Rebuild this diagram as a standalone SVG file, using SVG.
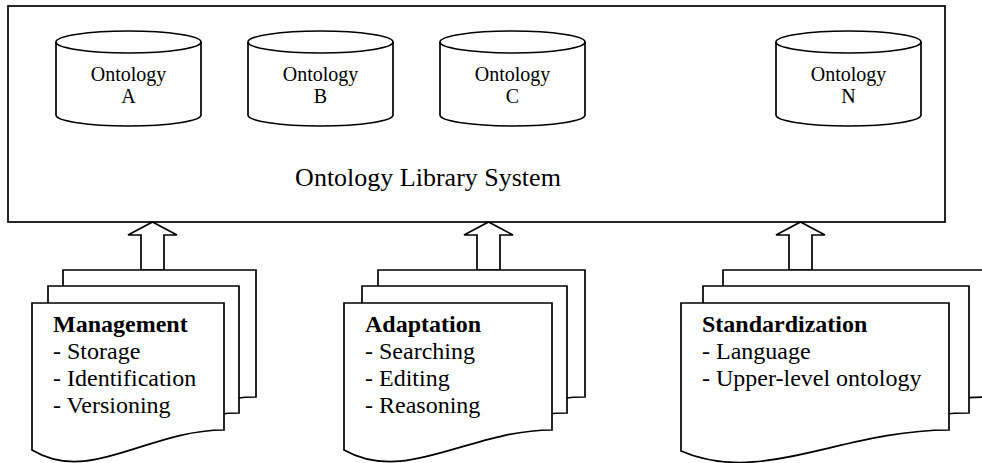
<svg xmlns="http://www.w3.org/2000/svg" width="982" height="463" viewBox="0 0 982 463">
<style>
.ln{fill:#fff;stroke:#000;stroke-width:1.7;stroke-linejoin:miter}
.nf{fill:none;stroke:#000;stroke-width:1.7}
.cy{font-family:"Liberation Serif","Times New Roman",serif;font-size:20px;fill:#000;text-anchor:middle}
.big{font-family:"Liberation Serif","Times New Roman",serif;font-size:26px;fill:#000;text-anchor:middle}
.tx{font-family:"Liberation Serif","Times New Roman",serif;font-size:24px;fill:#000}
.b{font-weight:bold}
</style>
<rect fill="#fff" x="0" y="0" width="982" height="463"/>
<g id="library">
<rect class="ln" x="8" y="6" width="937" height="216"/>
<text class="big" x="428" y="186">Ontology Library System</text>
</g>
<g id="ontologyA">
<path class="ln" d="M56,42 A72.5,11 0 0 1 201,42 V115 A72.5,11 0 0 1 56,115 Z"/>
<path class="nf" d="M56,42 A72.5,11 0 0 0 201,42"/>
<text class="cy" x="128.5" y="81">Ontology</text><text class="cy" x="128.5" y="103">A</text>
</g>
<g id="ontologyB">
<path class="ln" d="M248,42 A72.5,11 0 0 1 393,42 V115 A72.5,11 0 0 1 248,115 Z"/>
<path class="nf" d="M248,42 A72.5,11 0 0 0 393,42"/>
<text class="cy" x="320.5" y="81">Ontology</text><text class="cy" x="320.5" y="103">B</text>
</g>
<g id="ontologyC">
<path class="ln" d="M440,42 A72.5,11 0 0 1 585,42 V115 A72.5,11 0 0 1 440,115 Z"/>
<path class="nf" d="M440,42 A72.5,11 0 0 0 585,42"/>
<text class="cy" x="512.5" y="81">Ontology</text><text class="cy" x="512.5" y="103">C</text>
</g>
<g id="ontologyN">
<path class="ln" d="M776,42 A72.5,11 0 0 1 921,42 V115 A72.5,11 0 0 1 776,115 Z"/>
<path class="nf" d="M776,42 A72.5,11 0 0 0 921,42"/>
<text class="cy" x="848.5" y="81">Ontology</text><text class="cy" x="848.5" y="103">N</text>
</g>
<g id="connectors">
<polygon class="ln" points="141,270 141,235 128,235 152.5,222 177,235 164,235 164,270"/>
<polygon class="ln" points="477,270 477,235 464,235 488.5,222 513,235 500,235 500,270"/>
<polygon class="ln" points="789,270 789,235 776,235 800.5,222 825,235 812,235 812,270"/>
</g>
<g id="management">
<path class="ln" d="M63,270 H256 V397 C179,397 121,452 63,417 Z"/>
<path class="ln" d="M48,286 H239 V413 C163,413 105,468 48,433 Z"/>
<path class="ln" d="M32,303 H224 V430 C147,430 90,485 32,450 Z"/>
<text class="tx b" x="53" y="332">Management</text>
<text class="tx" x="53" y="359">- Storage</text>
<text class="tx" x="53" y="386">- Identification</text>
<text class="tx" x="53" y="413">- Versioning</text>
</g>
<g id="adaptation">
<path class="ln" d="M378,270 H585 V397 C502,397 440,452 378,417 Z"/>
<path class="ln" d="M362,286 H567 V413 C485,413 424,468 362,433 Z"/>
<path class="ln" d="M344,303 H552 V430 C469,430 406,485 344,450 Z"/>
<text class="tx b" x="365" y="332">Adaptation</text>
<text class="tx" x="365" y="359">- Searching</text>
<text class="tx" x="365" y="386">- Editing</text>
<text class="tx" x="365" y="413">- Reasoning</text>
</g>
<g id="standardization">
<path class="ln" d="M723,270 H988 V397 C882,397 802,452 723,417 Z"/>
<path class="ln" d="M703,286 H969 V413 C863,413 783,468 703,433 Z"/>
<path class="ln" d="M681,303 H949 V430 C842,430 761,486 681,451 Z"/>
<text class="tx b" x="702" y="332">Standardization</text>
<text class="tx" x="702" y="359">- Language</text>
<text class="tx" x="702" y="386">- Upper-level ontology</text>
</g>
</svg>
